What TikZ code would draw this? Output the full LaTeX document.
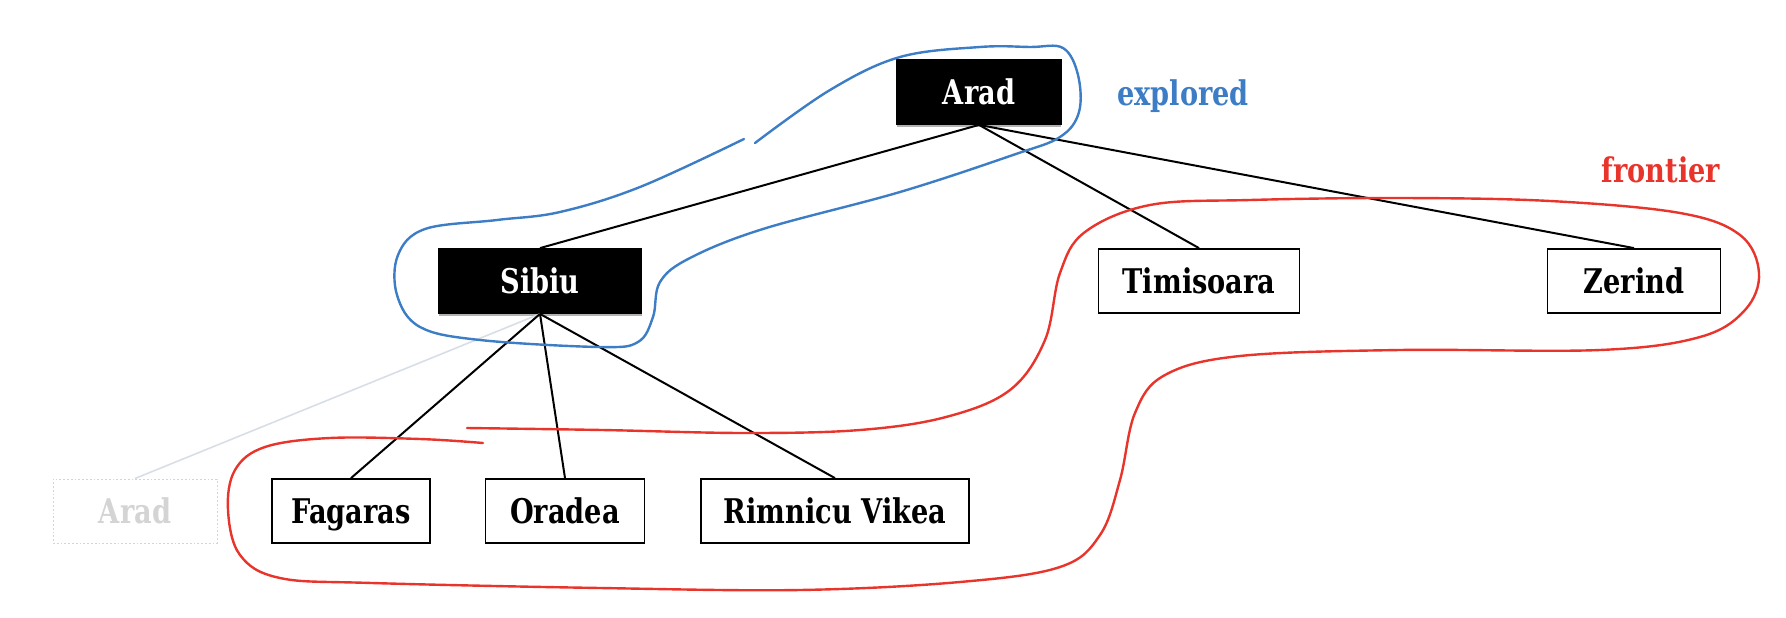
\documentclass[tikz,border=0pt]{standalone}
\usepackage{fontspec}
\setmainfont{DejaVu Serif}[FakeStretch=0.8]
\usetikzlibrary{shadows}
\definecolor{explc}{HTML}{3C7DC6}
\definecolor{fronc}{HTML}{E8342B}
\definecolor{ghostc}{HTML}{D4D4D4}
\definecolor{ghostl}{HTML}{D8DEE6}
\begin{document}
\begin{tikzpicture}[x=1pt,y=-1pt,
  city/.style={draw=black, line width=1.8pt, fill=white, minimum height=64pt, inner sep=0pt,
    font=\fontsize{34}{40}\selectfont\bfseries, text height=25pt, text depth=0pt},
  done/.style={city, fill=black, text=white,
    drop shadow={shadow xshift=0pt, shadow yshift=-3pt, opacity=0.3, fill=black}},
  ghost/.style={city, draw=ghostc, dotted, line width=1pt, text=ghostc},
  treeedge/.style={line width=2pt, black},
  ghostedge/.style={line width=1.6pt, ghostl},
  setlabel/.style={font=\fontsize{34}{40}\selectfont\bfseries, anchor=base, inner sep=0pt},
  hand/.style={line width=2.4pt, line cap=round, line join=round}]
\useasboundingbox (0,0) rectangle (1786,618);

% nodes
\node[done, minimum width=164pt] (arad) at (979,92) {Arad};
\node[done, minimum width=203pt] (sibiu) at (540,281) {Sibiu};
\node[city, minimum width=201pt] (timi) at (1199,281) {Timisoara};
\node[city, minimum width=173pt] (zer) at (1634,281) {Zerind};
\node[ghost, minimum width=164pt] (arad2) at (135,511) {Arad};
\node[city, minimum width=158pt] (fag) at (351,511) {Fagaras};
\node[city, minimum width=159pt] (ora) at (565,511) {Oradea};
\node[city, minimum width=268pt] (rim) at (835,511) {Rimnicu Vikea};

% edges
\draw[ghostedge] (sibiu.south) -- (arad2.north);
\draw[treeedge] (arad.south) -- (sibiu.north);
\draw[treeedge] (arad.south) -- (timi.north);
\draw[treeedge] (arad.south) -- (zer.north);
\draw[treeedge] (sibiu.south) -- (fag.north);
\draw[treeedge] (sibiu.south) -- (ora.north);
\draw[treeedge] (sibiu.south) -- (rim.north);

% labels
\node[setlabel, text=explc] (lexp) at (1183,105) {explored};
\node[setlabel, text=fronc] (lfro) at (1661,182) {frontier};

% explored outline
\draw[hand, explc] plot[smooth, tension=0.6] coordinates {
 (755,143) (830,90) (900,57) (980,47) (1030,47) (1063,48) (1078,75)
 (1079,112) (1060,137) (1013,155) (900,192) (763,229) (690,258) (660,282)
 (653,317) (638,342) (600,347) (480,340) (420,327) (397,295) (398,255)
 (425,229) (497,220) (560,212) (640,187) (744,139)};

% frontier outline
\draw[hand, fronc] plot[smooth, tension=0.6] coordinates {
 (467,428) (602,430) (745,433) (860,430) (946,417) (1010,390) (1045,340)
 (1060,273) (1085,232) (1150,205) (1250,200) (1400,198) (1550,201) (1680,213)
 (1740,235) (1759,273) (1745,310) (1700,337) (1600,350) (1400,350) (1240,356)
 (1165,375) (1135,413) (1120,480) (1100,535) (1060,567) (960,582) (800,590)
 (600,588) (372,583) (280,578) (240,555) (228,510) (235,470) (265,447)
 (330,438) (420,439) (483,443)};
\end{tikzpicture}
\end{document}
